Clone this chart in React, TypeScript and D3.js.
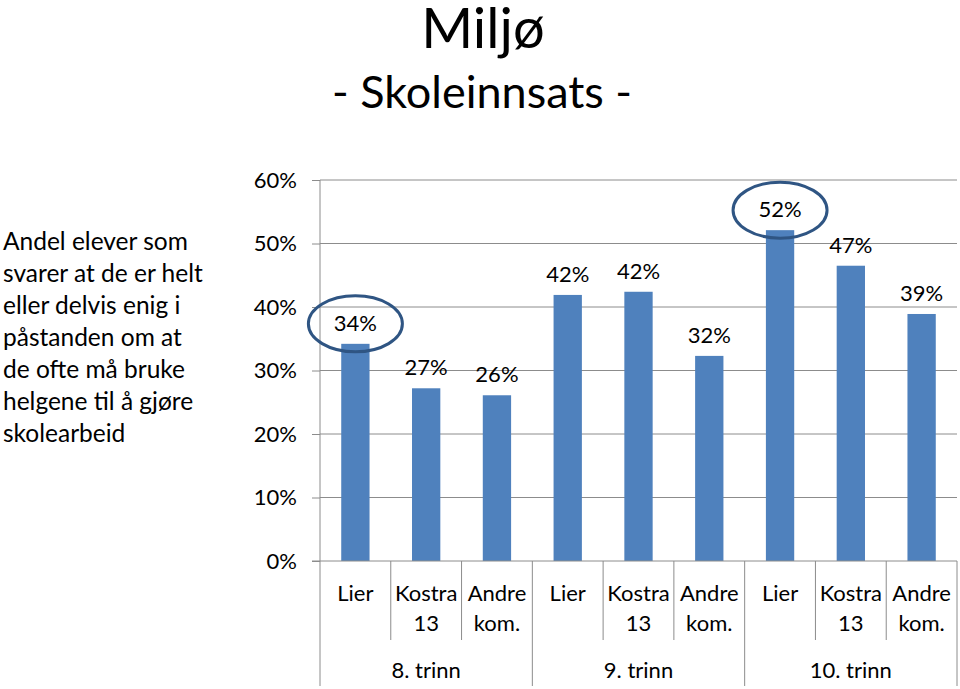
import React, { useEffect, useRef } from 'react';
import * as d3 from 'd3';

// categories per group
const subLabels = [['Lier'], ['Kostra', '13'], ['Andre', 'kom.']];
const groups = ['8. trinn', '9. trinn', '10. trinn'];
const values = [0.342, 0.272, 0.261, 0.419, 0.424, 0.323, 0.521, 0.465, 0.389];
const valueLabels = ['34%', '27%', '26%', '42%', '42%', '32%', '52%', '47%', '39%'];
const yTicks = [0, 0.1, 0.2, 0.3, 0.4, 0.5, 0.6];
const highlighted = [0, 6];
const sideText = [
  'Andel elever som',
  'svarer at de er helt',
  'eller delvis enig i',
  'påstanden om at',
  'de ofte må bruke',
  'helgene til å gjøre',
  'skolearbeid',
];

const FONT = 'Lato, "Liberation Sans", sans-serif';

const App: React.FC = () => {
  const ref = useRef<SVGSVGElement>(null);

  useEffect(() => {
    const svg = d3.select(ref.current);
    svg.selectAll('*').remove();

    const left = 320;
    const right = 957;
    const top = 180;
    const bottom = 561;

    const keys = values.map((_, i) => `c${i}`);
    const x = d3.scaleBand().domain(keys).range([left, right]).paddingInner(0.6).paddingOuter(0.3);
    const xBand = d3.scaleBand().domain(keys).range([left, right]);
    const y = d3.scaleLinear().domain([0, 0.6]).range([bottom, top]);

    // title
    svg.append('text')
      .attr('x', 483).attr('y', 48).attr('text-anchor', 'middle')
      .style('font-family', FONT).style('font-size', '56px').attr('fill', '#000')
      .text('Miljø');
    svg.append('text')
      .attr('x', 482).attr('y', 108).attr('text-anchor', 'middle')
      .style('font-family', FONT).style('font-size', '45px').attr('fill', '#000')
      .text('- Skoleinnsats -');

    // side text
    svg.append('g').selectAll('text').data(sideText).enter().append('text')
      .attr('x', 3).attr('y', (_, i) => 250 + i * 32)
      .style('font-family', FONT).style('font-size', '24.5px').attr('fill', '#000')
      .text((d) => d);

    // gridlines
    svg.append('g').selectAll('line').data(yTicks.filter((t) => t > 0)).enter().append('line')
      .attr('x1', left).attr('x2', right)
      .attr('y1', (d) => y(d)).attr('y2', (d) => y(d))
      .attr('stroke', '#8c8c8c').attr('stroke-width', 1);

    // y axis
    const yAxis = svg.append('g').attr('transform', `translate(${left},0)`)
      .call(d3.axisLeft(y).tickValues(yTicks).tickFormat(d3.format('.0%')).tickSize(8).tickPadding(15));
    yAxis.select('.domain').remove();
    yAxis.selectAll('line').attr('stroke', '#8c8c8c');
    yAxis.selectAll('text').style('font-family', FONT).style('font-size', '22px').attr('fill', '#000');
    svg.append('line').attr('x1', left).attr('x2', left).attr('y1', top).attr('y2', 686)
      .attr('stroke', '#8c8c8c');

    // bars
    svg.append('g').selectAll('rect').data(values).enter().append('rect')
      .attr('x', (_, i) => x(keys[i])!)
      .attr('width', x.bandwidth())
      .attr('y', (d) => y(d))
      .attr('height', (d) => bottom - y(d))
      .attr('fill', '#4f81bd');

    // x axis line
    svg.append('line').attr('x1', left - 8).attr('x2', right).attr('y1', bottom).attr('y2', bottom)
      .attr('stroke', '#8c8c8c');

    // separators
    keys.forEach((k, i) => {
      if (i === 0) return;
      const xx = xBand(k)!;
      const isGroup = i % 3 === 0;
      svg.append('line').attr('x1', xx).attr('x2', xx).attr('y1', bottom).attr('y2', isGroup ? 686 : 640)
        .attr('stroke', '#8c8c8c');
    });
    svg.append('line').attr('x1', right).attr('x2', right).attr('y1', bottom).attr('y2', 686)
      .attr('stroke', '#8c8c8c');

    // category labels
    keys.forEach((k, i) => {
      const cx = xBand(k)! + xBand.bandwidth() / 2;
      subLabels[i % 3].forEach((line, j) => {
        svg.append('text').attr('x', cx).attr('y', 601 + j * 30).attr('text-anchor', 'middle')
          .style('font-family', FONT).style('font-size', '22px').attr('fill', '#000')
          .text(line);
      });
    });
    groups.forEach((g, gi) => {
      const x0 = xBand(keys[gi * 3])!;
      const x1 = xBand(keys[gi * 3 + 2])! + xBand.bandwidth();
      svg.append('text').attr('x', (x0 + x1) / 2).attr('y', 678).attr('text-anchor', 'middle')
        .style('font-family', FONT).style('font-size', '22px').attr('fill', '#000')
        .text(g);
    });

    // value labels
    svg.append('g').selectAll('text').data(values).enter().append('text')
      .attr('x', (_, i) => x(keys[i])! + x.bandwidth() / 2)
      .attr('y', (d) => y(d) - 13)
      .attr('text-anchor', 'middle')
      .style('font-family', FONT).style('font-size', '22px').attr('fill', '#000')
      .text((_, i) => valueLabels[i]);

    // highlight ellipses
    svg.append('g').selectAll('ellipse').data(highlighted).enter().append('ellipse')
      .attr('cx', (i) => x(keys[i])! + x.bandwidth() / 2)
      .attr('cy', (i) => y(values[i]) - 20)
      .attr('rx', 47).attr('ry', 28)
      .attr('fill', 'none').attr('stroke', '#2f5583').attr('stroke-width', 3);
  }, []);

  return <svg ref={ref} width={960} height={689} style={{ display: 'block', position: 'absolute', left: 0, top: 0 }} />;
};

export default App;
